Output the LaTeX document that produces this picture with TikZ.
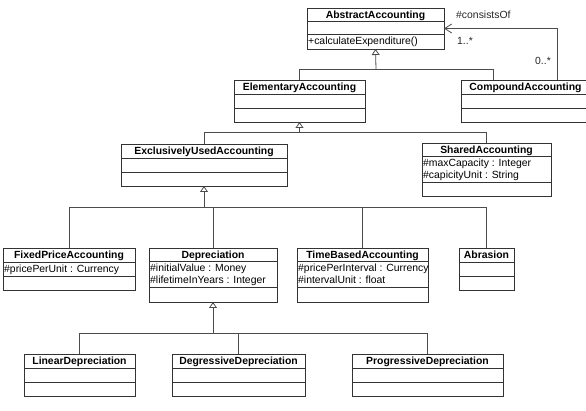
\documentclass[tikz,border=0pt]{standalone}
\usepackage{fontspec}
\setmainfont{Liberation Sans}
\usetikzlibrary{arrows.meta}

\tikzset{
  classbox/.style={draw=black!80, line width=0.8pt, anchor=north west, inner sep=0pt, outer sep=0pt, fill=white},
  classline/.style={draw=black!80, line width=0.8pt},
  classname/.style={anchor=base, inner sep=0pt, font=\fontsize{10.4}{12}\selectfont\bfseries},
  member/.style={anchor=base west, inner sep=0pt, font=\fontsize{10.4}{12}\selectfont},
  label/.style={anchor=base west, inner sep=0pt, font=\fontsize{10.4}{12}\selectfont, text=black!85},
  gen/.style={draw=black!70, line width=0.8pt, -{Triangle[open, length=6pt, width=8pt, line width=0.8pt]}},
  genline/.style={draw=black!70, line width=0.8pt},
  assoc/.style={draw=black!70, line width=0.8pt, -{Straight Barb[length=7pt, width=9pt, line width=0.8pt]}},
}

% #1 id, #2 left, #3 top, #4 right, #5 first divider, #6 second divider, #7 bottom, #8 class name
\newcommand\umlclass[8]{%
  \node[classbox, minimum width={(#4-#2)*1pt}, minimum height={(#7-#3)*1pt}] (#1) at (#2,#3) {};
  \draw[classline] (#2,#5) -- (#4,#5) (#2,#6) -- (#4,#6);
  \node[classname] (#1-name) at ({(#2+#4)/2},{(#3+#5)/2+3.7}) {#8};
}
% #1 id, #2 left edge, #3 baseline, #4 text
\newcommand\umlmember[4]{%
  \node[member] (#1) at (#2+1,#3) {#4};
}

\begin{document}
\begin{tikzpicture}[x=1pt, y=-1pt]
\useasboundingbox (0,0) rectangle (586,411);
\clip (0,0) rectangle (586,411);

% classes
\umlclass{abstract}{307}{8}{444}{21}{34}{49}{AbstractAccounting}
\umlmember{abstract-op}{307}{45}{+calculateExpenditure()}

\umlclass{elementary}{234}{80}{365}{94}{108}{122}{ElementaryAccounting}
\umlclass{compound}{461}{80}{590}{94}{108}{122}{CompoundAccounting}

\umlclass{exclusive}{121}{144}{287}{158}{172}{186}{ExclusivelyUsedAccounting}
\umlclass{shared}{422}{143}{551}{156}{182}{196}{SharedAccounting}
\umlmember{shared-a1}{422}{166.5}{\#maxCapacity : Integer}
\umlmember{shared-a2}{422}{179}{\#capicityUnit : String}

\umlclass{fixed}{3}{248}{135}{262}{276}{290}{FixedPriceAccounting}
\umlmember{fixed-a1}{3}{272.5}{\#pricePerUnit : Currency}

\umlclass{depreciation}{149}{248}{277}{261}{287}{302}{Depreciation}
\umlmember{depreciation-a1}{149}{271.5}{\#initialValue : Money}
\umlmember{depreciation-a2}{149}{284}{\#lifetimeInYears : Integer}

\umlclass{timebased}{297}{248}{428}{261}{287}{302}{TimeBasedAccounting}
\umlmember{timebased-a1}{297}{271.5}{\#pricePerInterval : Currency}
\umlmember{timebased-a2}{297}{284}{\#intervalUnit : float}

\umlclass{abrasion}{459}{248}{514}{262}{276}{290}{Abrasion}

\umlclass{linear}{24}{354}{135}{368}{382}{396}{LinearDepreciation}
\umlclass{degressive}{172}{354}{305}{368}{382}{396}{DegressiveDepreciation}
\umlclass{progressive}{352}{354}{503}{368}{382}{396}{ProgressiveDepreciation}

% generalization: AbstractAccounting
\coordinate (j1) at (376,69);
\coordinate (compound-gen) at (493,80);
\draw[genline] (elementary.north) |- (j1);
\draw[genline] (compound-gen) |- (j1);
\draw[gen] (j1) -- (abstract.south);

% generalization: ElementaryAccounting
\coordinate (j2) at (299.5,132);
\draw[genline] (exclusive.north) |- (j2);
\draw[genline] (shared.north) |- (j2);
\draw[gen] (j2) -- (elementary.south);

% generalization: ExclusivelyUsedAccounting
\coordinate (j3) at (204,207);
\draw[genline] (fixed.north) |- (j3);
\draw[genline] (depreciation.north) |- (j3);
\draw[genline] (timebased.north) |- (j3);
\draw[genline] (abrasion.north) |- (j3);
\draw[gen] (j3) -- (exclusive.south);

% generalization: Depreciation
\coordinate (j4) at (213,333);
\draw[genline] (linear.north) |- (j4);
\draw[genline] (degressive.north) |- (j4);
\draw[genline] (progressive.north) |- (j4);
\draw[gen] (j4) -- (depreciation.south);

% association consistsOf
\coordinate (compound-assoc) at (557,80);
\coordinate (assoc-bend) at (557,28.5);
\draw[assoc] (compound-assoc) -- (assoc-bend) -- (abstract.east |- assoc-bend);
\node[label] (role) at (456,18.5) {\#consistsOf};
\node[label] (mult-target) at (457,45) {1..*};
\node[label] (mult-source) at (535,65) {0..*};

\end{tikzpicture}
\end{document}
